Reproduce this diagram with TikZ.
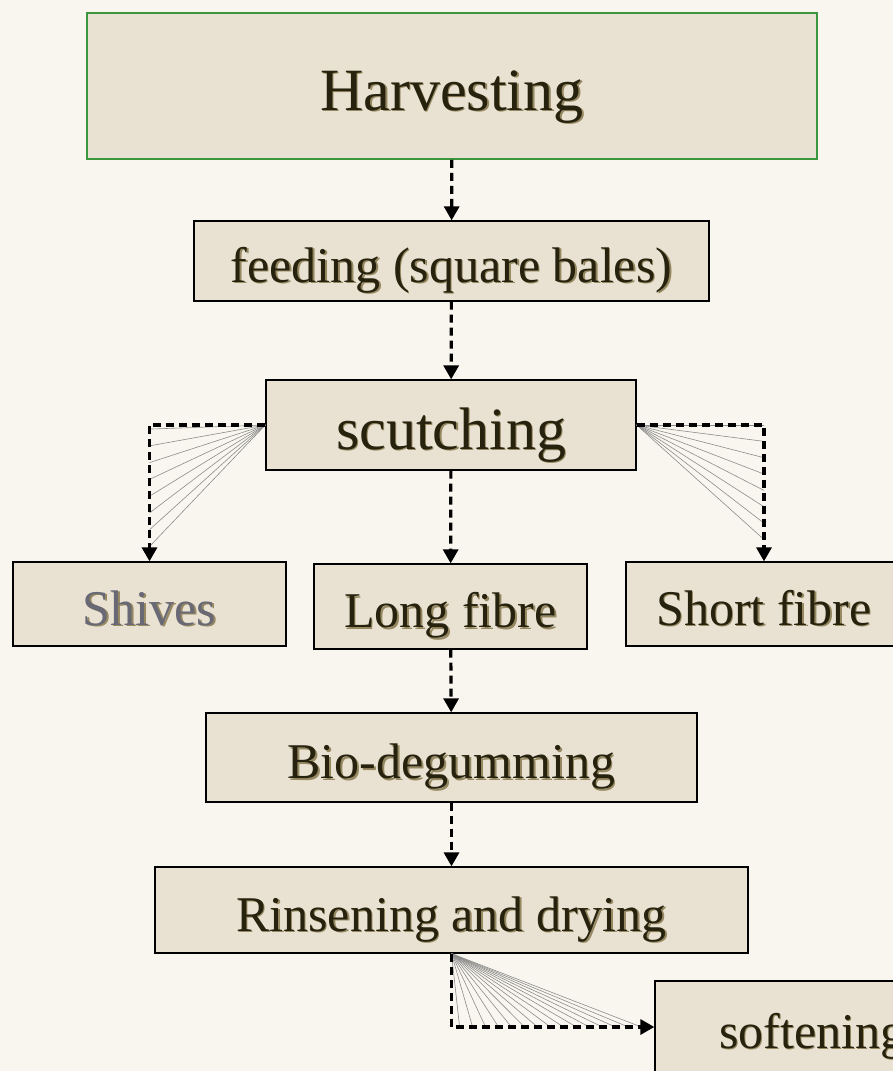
\documentclass[tikz,border=0pt]{standalone}
\usepackage{fontspec}
\setmainfont{Liberation Serif}
\usetikzlibrary{arrows.meta,calc}
\definecolor{bgc}{RGB}{248,246,238}
\definecolor{boxc}{RGB}{233,226,211}
\definecolor{txtc}{RGB}{38,34,14}
\definecolor{txtsh}{RGB}{150,136,96}
\definecolor{grayt}{RGB}{105,105,118}
\definecolor{greenb}{RGB}{60,150,60}
\definecolor{fanc}{RGB}{140,140,140}
\newcommand\shtxt[2]{\leavevmode\rlap{\kern1.5pt\raisebox{-1.5pt}{\textcolor{txtsh}{#2}}}\textcolor{#1}{#2}}
\tikzset{
  stage/.style={draw=black, line width=1.3pt, fill=boxc, inner sep=0pt, font=\fontsize{50}{60}\selectfont, text height=42pt, text depth=0pt},
  big/.style={font=\fontsize{60}{72}\selectfont, text height=48pt, text depth=0pt},
  flow/.style={line width=3.2pt, dash pattern=on 8pt off 5pt, -{Triangle[length=14pt,width=15pt]}},
  fan/.style={line width=0.6pt, draw=fanc}
}
\begin{document}
\begin{tikzpicture}[x=1pt,y=-1pt]
\useasboundingbox (0,0) rectangle (893,1071);
\clip (0,0) rectangle (893,1071);
\fill[bgc] (0,0) rectangle (893,1071);

\node[stage, big, draw=greenb, line width=1.8pt, minimum width=730pt, minimum height=146pt] (harv) at (452,86) {\shtxt{txtc}{Harvesting}};
\node[stage, minimum width=515pt, minimum height=80pt] (feed) at (451.5,261) {\shtxt{txtc}{feeding (square bales)}};
\node[stage, big, minimum width=370pt, minimum height=90pt] (scut) at (451,425) {\shtxt{txtc}{scutching}};
\node[stage, minimum width=273pt, minimum height=84pt] (shiv) at (149.5,604) {\shtxt{grayt}{Shives}};
\node[stage, minimum width=273pt, minimum height=85pt] (long) at (450.5,606.5) {\shtxt{txtc}{Long fibre}};
\node[stage, minimum width=276pt, minimum height=84pt] (short) at (764,604) {\shtxt{txtc}{Short fibre}};
\node[stage, minimum width=491pt, minimum height=89pt] (bio) at (451.5,757.5) {\shtxt{txtc}{Bio-degumming}};
\node[stage, minimum width=593pt, minimum height=86pt] (rinse) at (451.5,910) {\shtxt{txtc}{Rinsening and drying}};
\node[stage, minimum width=314pt, minimum height=92pt, text width=314pt, align=left] (soft) at (812,1027) {\hspace*{64pt}\shtxt{txtc}{softening}};

% fans
\coordinate (cl) at (shiv.north |- scut.west);
\coordinate (cr) at (short.north |- scut.east);
\coordinate (cb) at (rinse.south |- soft.west);
\foreach \i in {0,...,7}
  \draw[fan] (scut.west) -- ($(cl)!{0.03+\i*0.123}!(shiv.north)$);
\foreach \i in {0,...,7}
  \draw[fan] (scut.east) -- ($(cr)!{0.0+\i*0.12}!(short.north)$);
\foreach \i in {0,...,14}
  \draw[fan] (rinse.south) -- ($(cb)!{0.04+\i*0.064}!(soft.west)$);

% connectors
\draw[flow] (harv) -- (feed);
\draw[flow] (feed) -- (scut);
\draw[flow] (scut) -- (long);
\draw[flow] (long) -- (bio);
\draw[flow] (bio) -- (rinse);
\draw[flow] (scut.west) -| (shiv.north);
\draw[flow] (scut.east) -| (short.north);
\draw[flow] (rinse.south) |- (soft.west);
\end{tikzpicture}
\end{document}
